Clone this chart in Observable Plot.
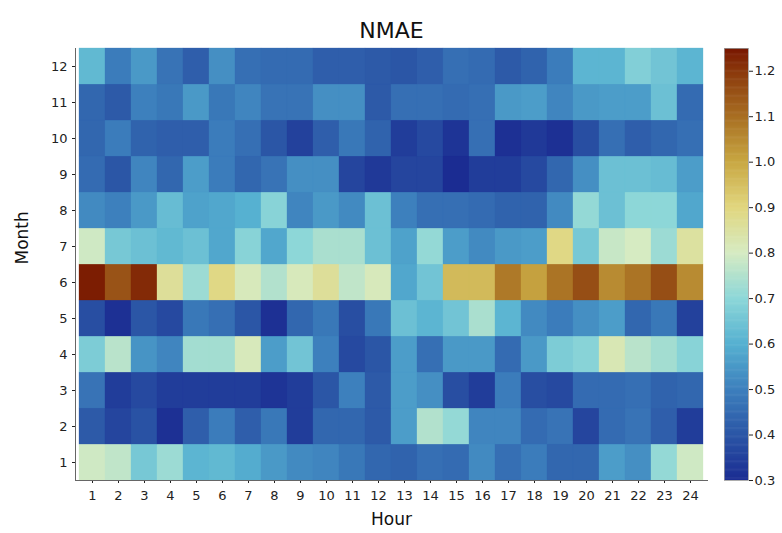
<!DOCTYPE html>
<html><head><meta charset="utf-8">
<script src="https://cdn.jsdelivr.net/npm/d3@7"></script>
<script src="https://cdn.jsdelivr.net/npm/@observablehq/plot@0.6"></script>
<style>
body{margin:0;background:#fff}
#wrap{position:relative;width:782px;height:533px;font-family:"DejaVu Sans",sans-serif}
#wrap svg{position:absolute;left:0;top:0}
</style>
</head><body><div id="wrap"></div>
<script>
const hours = [1,2,3,4,5,6,7,8,9,10,11,12,13,14,15,16,17,18,19,20,21,22,23,24];
const months = [1,2,3,4,5,6,7,8,9,10,11,12];
const colorTicks = [0.3,0.4,0.5,0.6,0.7,0.8,0.9,1.0,1.1,1.2];

const month1  = [0.79,0.77,0.66,0.72,0.61,0.62,0.59,0.55,0.52,0.51,0.48,0.44,0.43,0.46,0.45,0.52,0.46,0.49,0.44,0.44,0.56,0.53,0.71,0.79];
const month2  = [0.41,0.36,0.39,0.31,0.42,0.49,0.42,0.48,0.34,0.44,0.44,0.41,0.56,0.75,0.71,0.51,0.51,0.45,0.47,0.36,0.45,0.47,0.42,0.34];
const month3  = [0.47,0.34,0.37,0.34,0.34,0.34,0.34,0.32,0.34,0.40,0.50,0.41,0.56,0.53,0.38,0.34,0.49,0.38,0.37,0.45,0.45,0.46,0.43,0.44];
const month4  = [0.67,0.76,0.54,0.51,0.73,0.73,0.81,0.56,0.65,0.50,0.37,0.40,0.56,0.46,0.55,0.55,0.45,0.55,0.67,0.69,0.82,0.76,0.73,0.69];
const month5  = [0.38,0.31,0.40,0.37,0.48,0.46,0.40,0.31,0.44,0.48,0.38,0.48,0.64,0.61,0.65,0.74,0.61,0.52,0.49,0.53,0.56,0.44,0.48,0.35];
const month6  = [1.24,1.15,1.22,0.86,0.72,0.89,0.81,0.75,0.81,0.86,0.77,0.81,0.58,0.65,0.96,0.96,1.08,1.01,1.09,1.16,1.05,1.09,1.16,1.05];
const month7  = [0.79,0.66,0.64,0.62,0.64,0.58,0.69,0.58,0.70,0.74,0.74,0.64,0.57,0.71,0.56,0.52,0.55,0.56,0.89,0.66,0.78,0.80,0.72,0.85];
const month8  = [0.52,0.50,0.55,0.63,0.57,0.58,0.60,0.69,0.51,0.55,0.52,0.64,0.50,0.46,0.46,0.45,0.43,0.43,0.52,0.71,0.64,0.70,0.70,0.58];
const month9  = [0.45,0.40,0.51,0.44,0.56,0.49,0.44,0.47,0.53,0.53,0.36,0.33,0.36,0.36,0.30,0.34,0.34,0.37,0.44,0.53,0.64,0.64,0.63,0.56];
const month10 = [0.44,0.49,0.43,0.42,0.42,0.49,0.46,0.40,0.35,0.42,0.48,0.43,0.34,0.37,0.32,0.46,0.31,0.33,0.31,0.38,0.46,0.42,0.44,0.46];
const month11 = [0.44,0.41,0.50,0.48,0.55,0.48,0.51,0.47,0.47,0.53,0.53,0.41,0.46,0.46,0.45,0.46,0.55,0.56,0.51,0.55,0.56,0.56,0.64,0.45];
const month12 = [0.62,0.49,0.55,0.47,0.42,0.53,0.46,0.45,0.45,0.42,0.42,0.41,0.40,0.42,0.46,0.45,0.41,0.43,0.49,0.61,0.61,0.68,0.65,0.61];

const rows = [month1,month2,month3,month4,month5,month6,month7,month8,month9,month10,month11,month12];
const data = [];
months.forEach((m, i) => rows[i].forEach((v, j) => data.push({month: m, hour: hours[j], value: v})));

const colorDomain = [0.3, 1.25];
const stopValues = [0.3,0.4,0.5,0.6,0.7,0.8,0.9,1.0,1.1,1.2,1.25];
const stopColors = ["#1b2c92","#2b56a6","#3d80bd","#56b1d1","#8dd7d8","#d6ebc2","#e1d67e","#c8a742","#a86e22","#8a380c","#781600"];
const ramp = d3.scaleLinear().domain(stopValues).range(stopColors).interpolate(d3.interpolateRgb).clamp(true);
const colorOpts = {type: "linear", domain: colorDomain, interpolate: t => ramp(colorDomain[0] + t * (colorDomain[1] - colorDomain[0])), clamp: true};
const font = "DejaVu Sans";

const main = Plot.plot({
  width: 782, height: 533,
  marginLeft: 75, marginRight: 75, marginTop: 48, marginBottom: 53,
  style: {fontFamily: font, fontSize: "13px", color: "#222", background: "transparent"},
  x: {type: "band", domain: hours, padding: 0, label: null},
  y: {type: "band", domain: [...months].reverse(), padding: 0, label: null},
  color: colorOpts,
  marks: [
    Plot.cell(data, {x: "hour", y: "month", fill: "value", stroke: "value", strokeWidth: 0.3, inset: 0}),
    Plot.axisX({tickSize: 3, tickPadding: 7, fontSize: 13, label: null}),
    Plot.axisY({tickSize: 3, tickPadding: 5, fontSize: 13, label: null}),
    Plot.frame({anchor: "left", stroke: "#666"}),
    Plot.frame({anchor: "bottom", stroke: "#666"}),
    Plot.text(["NMAE"], {text: d => d, frameAnchor: "top", dy: -26, fontSize: 22, fill: "#111"}),
    Plot.text(["Hour"], {text: d => d, frameAnchor: "bottom", dy: 44, fontSize: 17, fill: "#111"}),
    Plot.text(["Month"], {text: d => d, frameAnchor: "left", dx: -53, rotate: -90, fontSize: 17, fill: "#111"})
  ]
});

const step = 0.0025;
const steps = d3.range(colorDomain[0], colorDomain[1], step);
const bar = Plot.plot({
  width: 782, height: 533,
  marginLeft: 724, marginRight: 34, marginTop: 48, marginBottom: 53,
  style: {fontFamily: font, fontSize: "13px", color: "#222", background: "transparent"},
  x: {domain: [0, 1], axis: null},
  y: {domain: colorDomain, axis: null},
  color: colorOpts,
  marks: [
    Plot.rect(steps, {x1: 0, x2: 1, y1: d => d, y2: d => Math.min(d + step * 1.5, colorDomain[1]), fill: d => d + step / 2}),
    Plot.axisY(colorTicks, {anchor: "right", tickSize: 4, tickPadding: 2, tickFormat: ".1f", fontSize: 13, label: null}),
    Plot.frame({stroke: "#999", strokeWidth: 0.8})
  ]
});

const wrap = document.getElementById("wrap");
wrap.appendChild(main);
wrap.appendChild(bar);
</script>
</body></html>
